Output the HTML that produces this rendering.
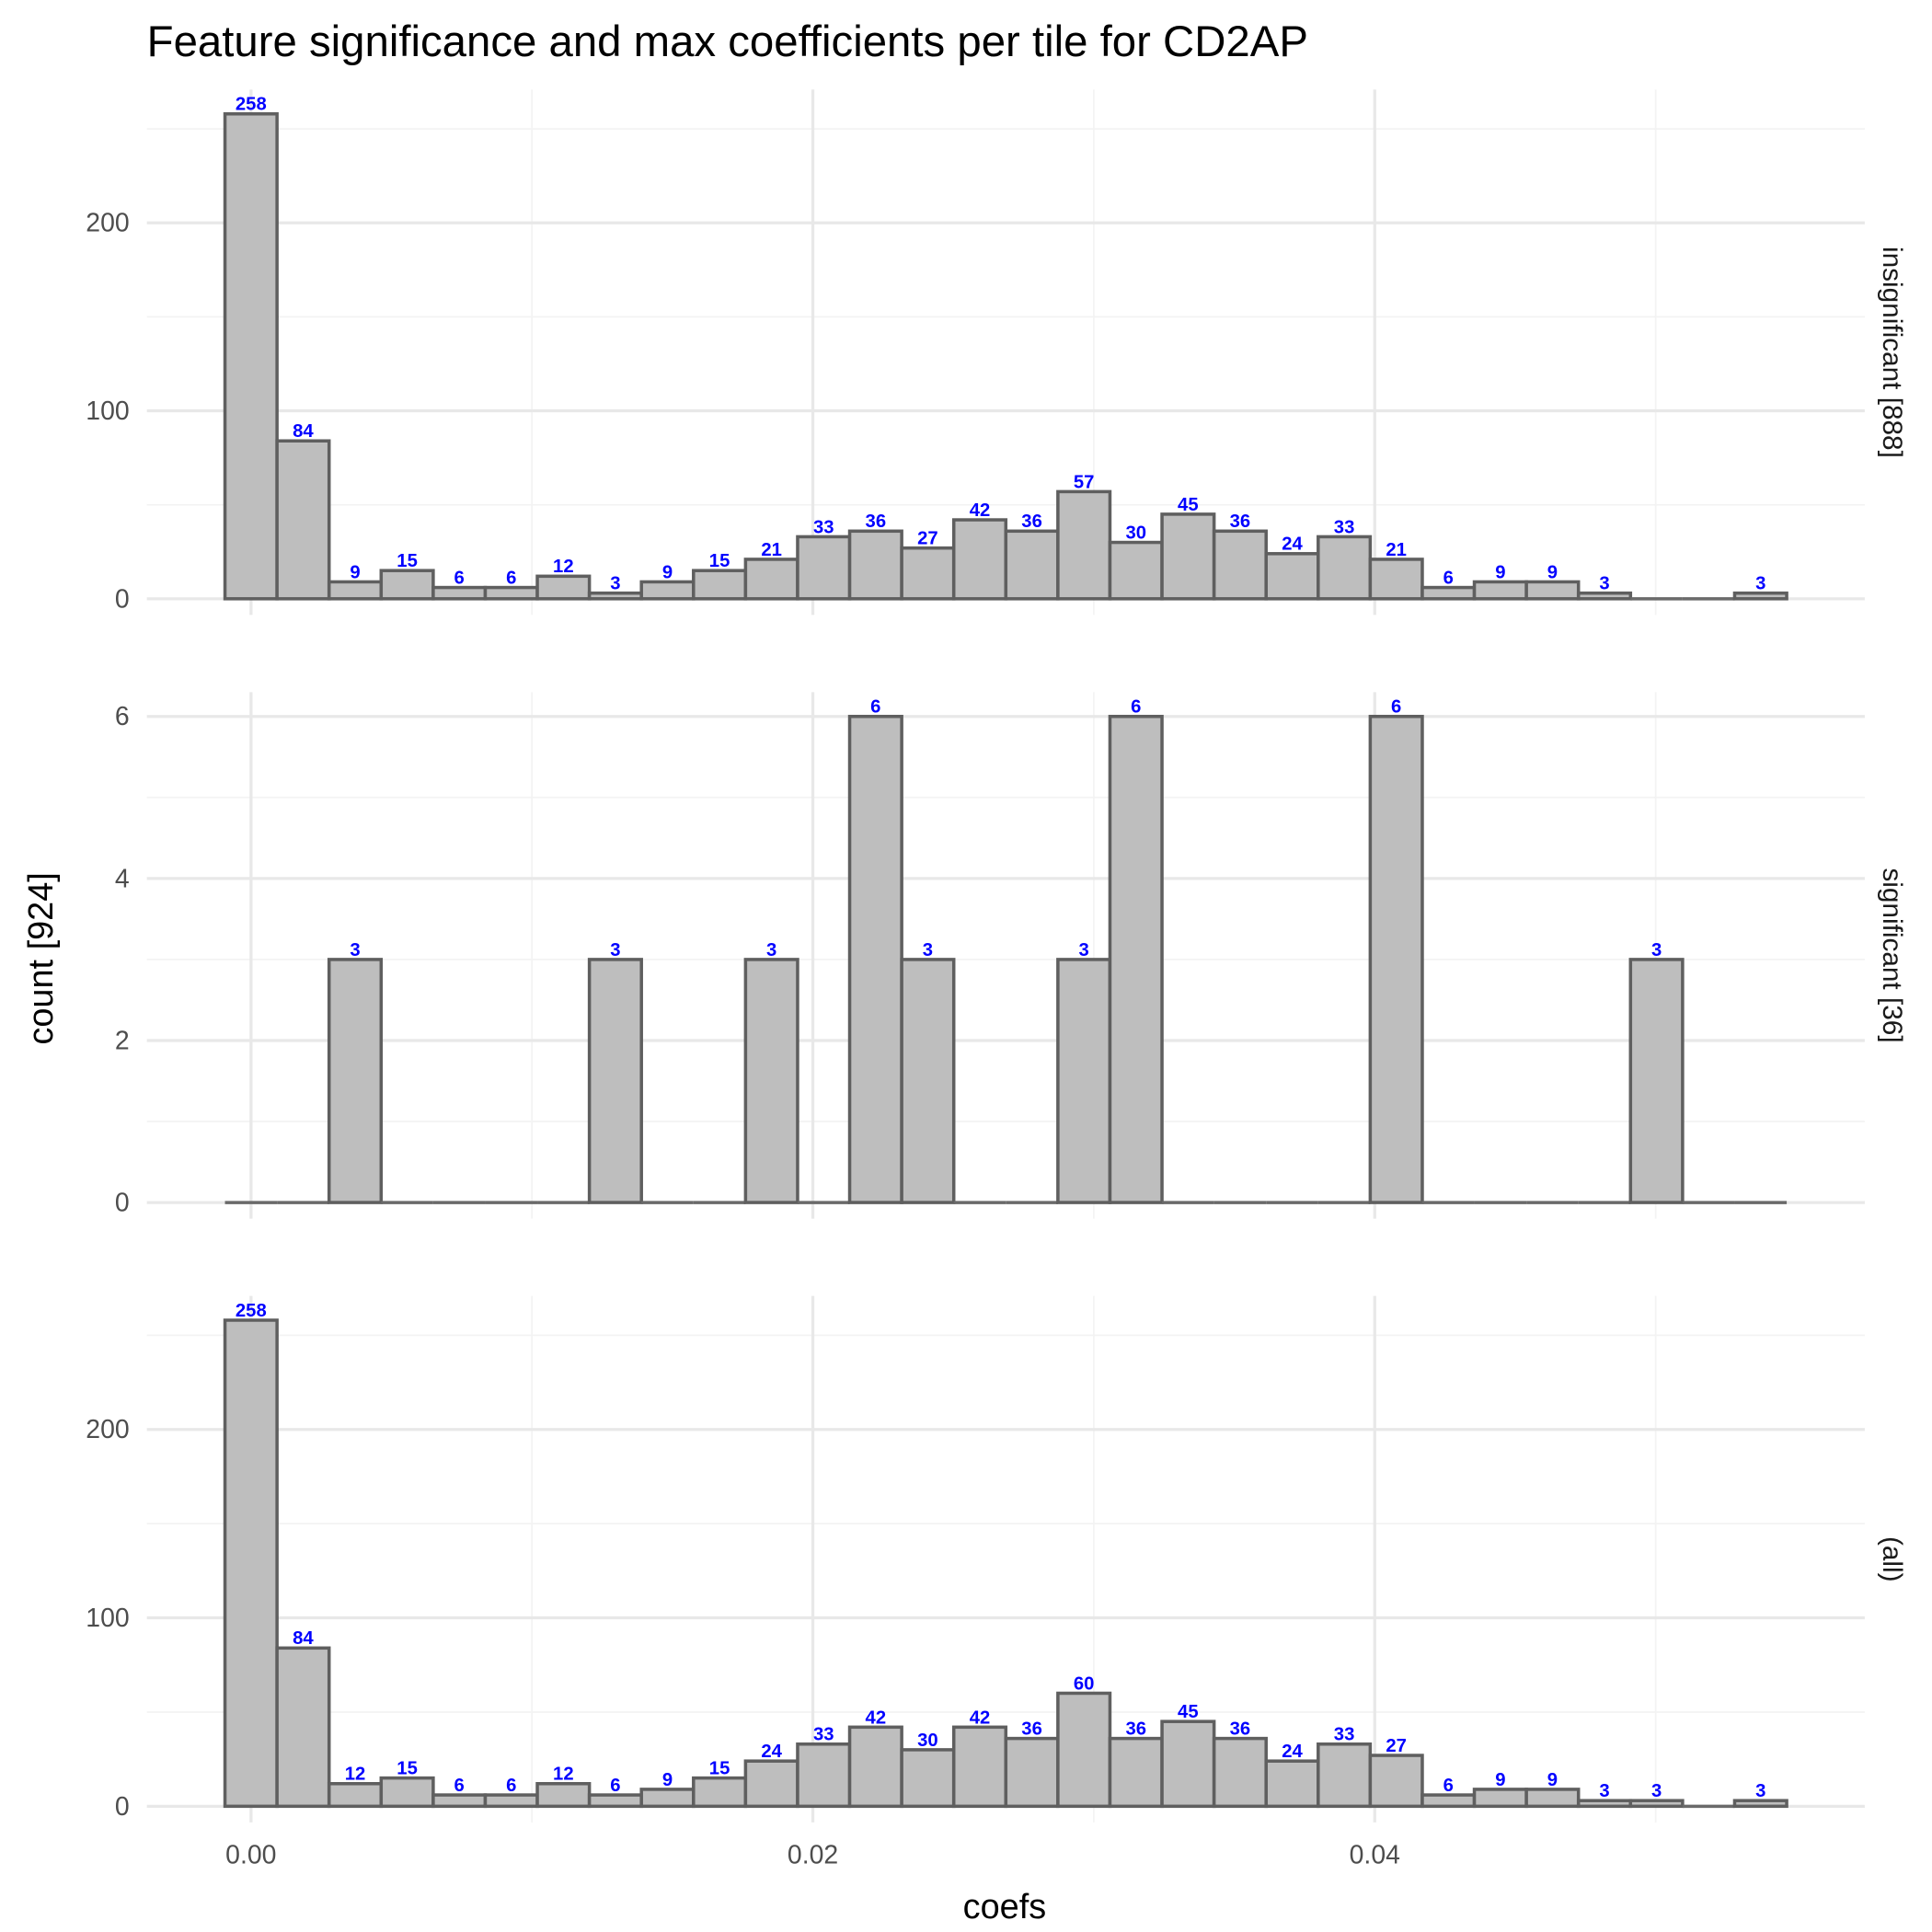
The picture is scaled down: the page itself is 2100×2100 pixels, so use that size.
<!DOCTYPE html>
<html><head><meta charset="utf-8">
<style>
html,body{margin:0;padding:0;background:#fff;}
svg{display:block;font-family:"Liberation Sans",sans-serif;}
</style></head>
<body>
<svg id="chart" width="2100" height="2100" viewBox="0 0 1552 1552" xmlns="http://www.w3.org/2000/svg">
<text x="118" y="45" font-size="35" fill="#000">Feature significance and max coefficients per tile for CD2AP</text>
<text transform="translate(42,770) rotate(-90)" text-anchor="middle" font-size="28" fill="#000">count [924]</text>
<text x="807" y="1541" text-anchor="middle" font-size="28" fill="#000">coefs</text>
</svg>
<script>
const binWidth = 0.001853;
const binCount = 30;
const insignificant = [258,84,9,15,6,6,12,3,9,15,21,33,36,27,42,36,57,30,45,36,24,33,21,6,9,9,3,0,0,3];
const significant = [0,0,3,0,0,0,0,3,0,0,3,0,6,3,0,0,3,6,0,0,0,0,6,0,0,0,0,3,0,0];
const allCounts = insignificant.map((v,i)=>v+significant[i]);
const xTicks = [0, 0.02, 0.04];
const xTickLabels = ["0.00","0.02","0.04"];
const xMinor = [0.01, 0.03, 0.05];
const panelNames = ["insignificant [888]","significant [36]","(all)"];
const yTicks1 = [0,100,200];
const yTicks2 = [0,2,4,6];
const yMinor1 = [50,150,250];
const yMinor2 = [1,3,5];

const svg = document.getElementById('chart');
const NS = 'http://www.w3.org/2000/svg';
const left = 118, right = 1498;
const xMin = -binWidth/2 - 0.05*binWidth*binCount, xMax = binWidth*(binCount-0.5) + 0.05*binWidth*binCount;
const xs = v => left + (v - xMin)/(xMax - xMin)*(right-left);

function mk(tag, attrs){ const e=document.createElementNS(NS,tag); for(const k in attrs) e.setAttribute(k,attrs[k]); svg.appendChild(e); return e; }

const panels = [
  {data: insignificant, top:72, bottom:494, ticks:yTicks1, minor:yMinor1, key:'insignificant'},
  {data: significant, top:556, bottom:979, ticks:yTicks2, minor:yMinor2, key:'significant'},
  {data: allCounts, top:1041, bottom:1464, ticks:yTicks1, minor:yMinor1, key:'all'}
];

panels.forEach((p, pi) => {
  const yMaxV = Math.max(...p.data) * 1.05;
  const plotBottom = p.bottom, plotTop = p.top;
  const zeroY = p.bottom - 13;
  const ys = v => zeroY - v/yMaxV*(zeroY - plotTop);
  p.minor.forEach(v => {
    const l = mk('line',{x1:left,x2:right,y1:ys(v),y2:ys(v),stroke:'#f3f3f3','stroke-width':1.3});
    
    
  });
  xMinor.forEach(v => {
    const l = mk('line',{x1:xs(v),x2:xs(v),y1:plotTop,y2:plotBottom,stroke:'#f3f3f3','stroke-width':1.3});
    
    
  });
  p.ticks.forEach(v => {
    const l = mk('line',{x1:left,x2:right,y1:ys(v),y2:ys(v),stroke:'#e8e8e8','stroke-width':2.4});
    
    
    const t = mk('text',{x:104,y:ys(v)+7,'text-anchor':'end','font-size':21,fill:'#4d4d4d'});
    t.textContent = v;
    
    
  });
  xTicks.forEach(v => {
    const l = mk('line',{x1:xs(v),x2:xs(v),y1:plotTop,y2:plotBottom,stroke:'#e8e8e8','stroke-width':2.4});
    
    
  });
  const bw = (xs(binWidth)-xs(0));
  p.data.forEach((v,i) => {
    const cx = xs(i*binWidth);
    if(v>0){
      const r = mk('rect',{x:cx-bw/2,y:ys(v),width:bw,height:zeroY-ys(v),fill:'#bebebe',stroke:'#5f5f5f','stroke-width':2.6});
      
      
      const t = mk('text',{x:cx,y:ys(v)-3,'text-anchor':'middle','font-size':15,'font-weight':'bold',fill:'#0000ff'});
      t.textContent = v;
      
      
    } else {
      const r = mk('line',{x1:cx-bw/2,x2:cx+bw/2,y1:zeroY,y2:zeroY,stroke:'#6a6a6a','stroke-width':2.6});
      
      
    }
  });
  const cy = (plotTop+plotBottom)/2;
  const s = mk('text',{transform:'translate(1513,'+cy+') rotate(90)','text-anchor':'middle','font-size':22,fill:'#1a1a1a'});
  s.textContent = panelNames[pi];
  
  
});
xTicks.forEach((v,i) => {
  const t = mk('text',{x:xs(v),y:1497,'text-anchor':'middle','font-size':21,fill:'#4d4d4d'});
  t.textContent = xTickLabels[i];
  
  
});
</script>
</body></html>
